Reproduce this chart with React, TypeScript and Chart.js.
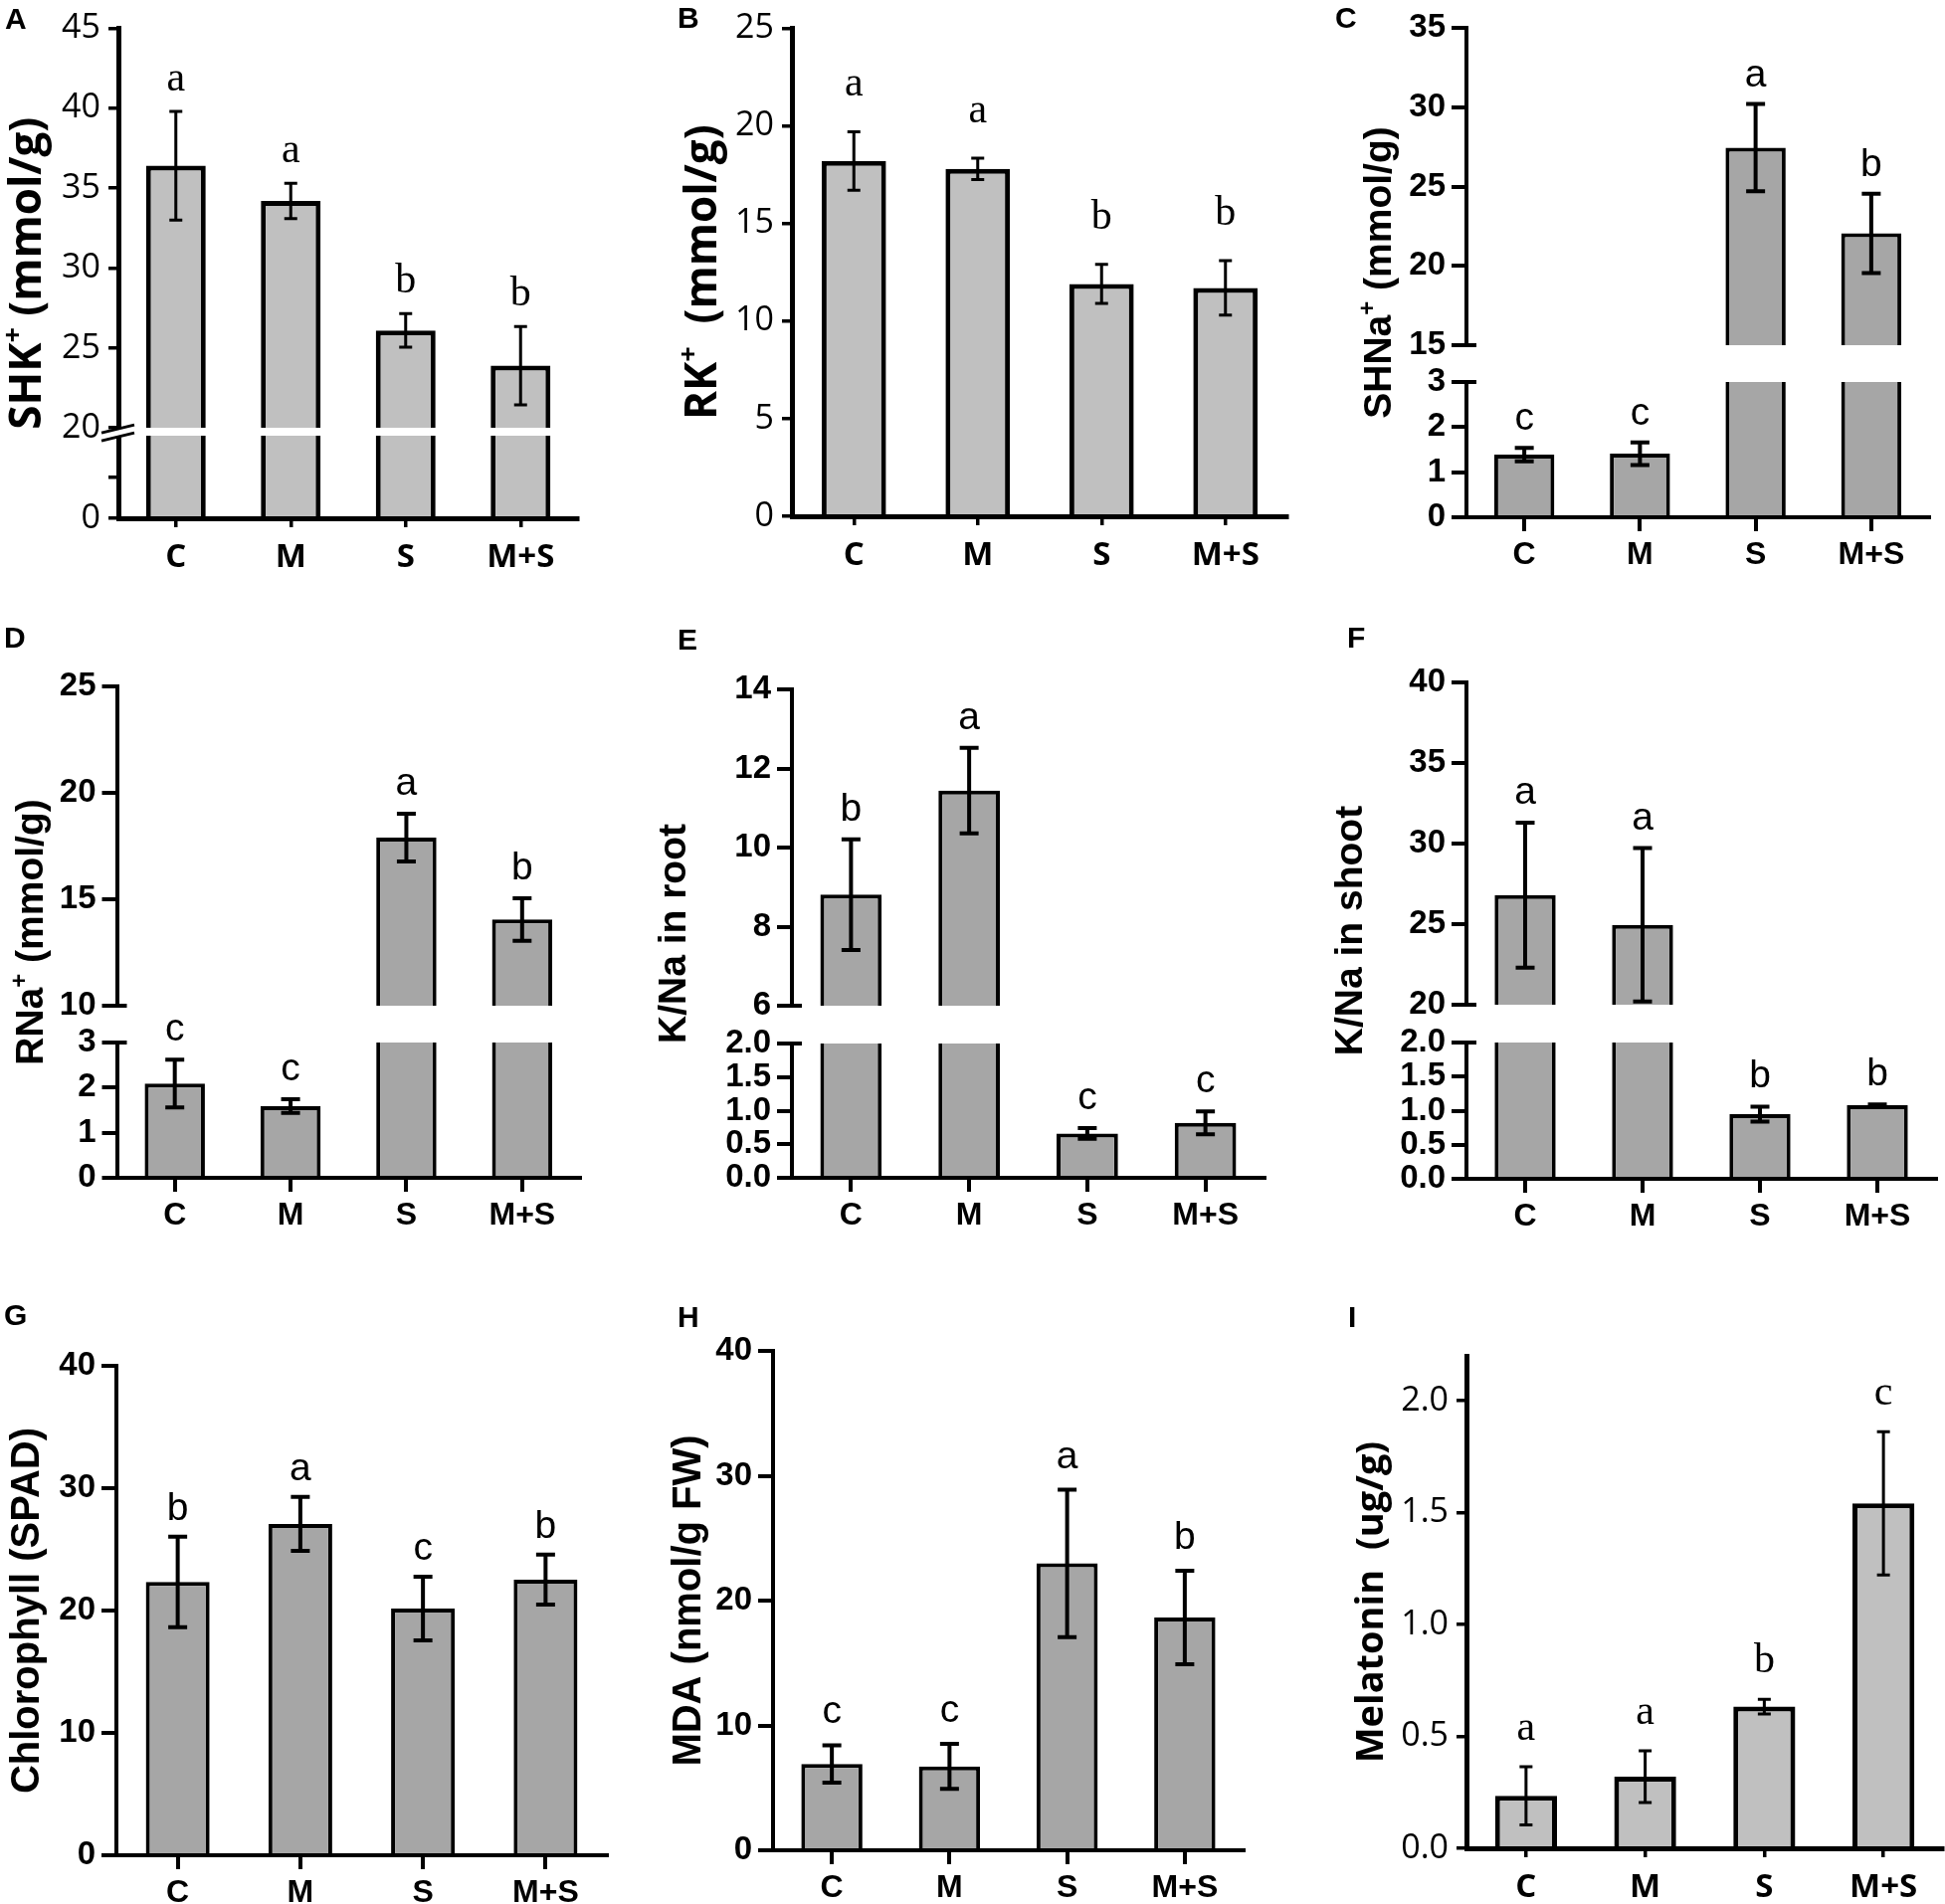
import React, { useEffect, useRef } from 'react';
import { Chart, registerables } from 'chart.js';

Chart.register(...registerables);

const categories = ['C', 'M', 'S', 'M+S'];

// A: SHK+
const shkValues = [36.4, 34.2, 26.1, 23.9];
const shkErrors = [3.4, 1.1, 1.05, 2.45];
const shkLetters = ['a', 'a', 'b', 'b'];
const shkUpperTicks = [20, 25, 30, 35, 40, 45];
const shkLowerTicks = [0, 10, 20];
// B: RK+
const rkValues = [18.2, 17.8, 11.9, 11.7];
const rkErrors = [1.5, 0.55, 1.0, 1.4];
const rkLetters = ['a', 'a', 'b', 'b'];
const rkTicks = [0, 5, 10, 15, 20, 25];
// C: SHNa+
const shnaValues = [1.39, 1.41, 27.45, 22.05];
const shnaErrors = [0.15, 0.25, 2.75, 2.5];
const shnaLetters = ['c', 'c', 'a', 'b'];
const shnaUpperTicks = [15, 20, 25, 30, 35];
const shnaLowerTicks = [0, 1, 2, 3];
// D: RNa+
const rnaValues = [2.09, 1.59, 17.9, 14.05];
const rnaErrors = [0.53, 0.15, 1.12, 1.0];
const rnaLetters = ['c', 'c', 'a', 'b'];
const rnaUpperTicks = [10, 15, 20, 25];
const rnaLowerTicks = [0, 1, 2, 3];
// E: K/Na in root
const rootValues = [8.81, 11.44, 0.66, 0.82];
const rootErrors = [1.4, 1.08, 0.08, 0.17];
const rootLetters = ['b', 'a', 'c', 'c'];
const rootUpperTicks = [6, 8, 10, 12, 14];
const rootLowerTicks = [0, 0.5, 1, 1.5, 2];
// F: K/Na in shoot
const shootValues = [26.8, 24.96, 0.95, 1.08];
const shootErrors = [4.5, 4.76, 0.11, 0.01];
const shootLetters = ['a', 'a', 'b', 'b'];
const shootUpperTicks = [20, 25, 30, 35, 40];
const shootLowerTicks = [0, 0.5, 1, 1.5, 2];
// G: Chlorophyll
const chlValues = [22.34, 27.08, 20.16, 22.53];
const chlErrors = [3.7, 2.2, 2.6, 2.05];
const chlLetters = ['b', 'a', 'c', 'b'];
const chlTicks = [0, 10, 20, 30, 40];
// H: MDA
const mdaValues = [6.91, 6.72, 22.98, 18.65];
const mdaErrors = [1.5, 1.8, 5.9, 3.75];
const mdaLetters = ['c', 'c', 'a', 'b'];
const mdaTicks = [0, 10, 20, 30, 40];
// I: Melatonin
const melValues = [0.235, 0.32, 0.633, 1.541];
const melErrors = [0.13, 0.116, 0.033, 0.32];
const melLetters = ['a', 'a', 'b', 'c'];
const melTicks = [0, 0.5, 1, 1.5, 2];

const ORIGIN_FAMILY = '"Open Sans", "DejaVu Sans", sans-serif';
const PRISM_FAMILY = '"Liberation Sans", Arial, "DejaVu Sans", sans-serif';

const STYLES: any = {
  origin: {
    bar: '#c0c0c0', barBorder: 5, axisW: 5, yTickLen: 10, xTickLen: 9, tickW: 3.5,
    tickPad: 8, catPad: 11, errW: 3, cap: 13,
    tickFont: { family: ORIGIN_FAMILY, size: 34, weight: 'normal' },
    catFont: { family: ORIGIN_FAMILY, size: 33, weight: 'bold' },
    title: ['bold', 44, ORIGIN_FAMILY],
    letterFont: '42px "Liberation Serif", "DejaVu Serif", serif',
  },
  prism: {
    bar: '#a6a6a6', barBorder: 4, axisW: 4, yTickLen: 15, xTickLen: 14, tickW: 4,
    tickPad: 6, catPad: 5, errW: 4, cap: 19,
    tickFont: { family: PRISM_FAMILY, size: 33, weight: 'bold' },
    catFont: { family: PRISM_FAMILY, size: 32, weight: 'bold' },
    title: ['bold', 39, PRISM_FAMILY],
    letterFont: '39px ' + PRISM_FAMILY,
  },
};

type Seg = { min: number; max: number; ticks: number[]; dec: number; hide?: number[] };
type Panel = {
  id: string; style: 'origin' | 'prism';
  box: [number, number, number, number];
  axisX: number; right: number; top: number; bottom: number;
  breakTop?: number; breakBottom?: number;
  values: number[]; errors: number[]; letters: string[];
  upper: Seg; lower?: Seg;
  title: { t: string; sup?: boolean }[];
  titleSize?: number;
  titleX: number; labelX: number; labelY: number; letterGap: number;
};

const panels: Panel[] = [
  {
    id: 'A', style: 'origin', box: [0, 0, 650, 620], axisX: 119, right: 581, top: 22, bottom: 521,
    breakTop: 429, breakBottom: 437,
    values: shkValues, errors: shkErrors, letters: shkLetters,
    upper: { min: 20, max: 45, ticks: shkUpperTicks, dec: 0 },
    lower: { min: 0, max: 20, ticks: shkLowerTicks, dec: 0, hide: [10, 20] },
    title: [{ t: 'SHK' }, { t: '+', sup: true }, { t: ' (mmol/g)' }],
    titleX: 25, labelX: 5, labelY: 21, letterGap: 21,
  },
  {
    id: 'B', style: 'origin', box: [650, 0, 650, 620], axisX: 796, right: 1294, top: 25, bottom: 519,
    values: rkValues, errors: rkErrors, letters: rkLetters,
    upper: { min: 0, max: 25, ticks: rkTicks, dec: 0 },
    title: [{ t: 'RK' }, { t: '+', sup: true }, { t: '  (mmol/g)' }],
    titleX: 704, labelX: 681, labelY: 20, letterGap: 36,
  },
  {
    id: 'C', style: 'prism', box: [1300, 0, 655, 620], axisX: 1474, right: 1939, top: 28, bottom: 520,
    breakTop: 347, breakBottom: 384,
    values: shnaValues, errors: shnaErrors, letters: shnaLetters,
    upper: { min: 15, max: 35, ticks: shnaUpperTicks, dec: 0 },
    lower: { min: 0, max: 3, ticks: shnaLowerTicks, dec: 0 },
    title: [{ t: 'SHNa' }, { t: '+', sup: true }, { t: ' (mmol/g)' }],
    titleX: 1384, labelX: 1342, labelY: 20, letterGap: 18,
  },
  {
    id: 'D', style: 'prism', box: [0, 620, 650, 670], axisX: 117.5, right: 583, top: 690, bottom: 1184,
    breakTop: 1011, breakBottom: 1048,
    values: rnaValues, errors: rnaErrors, letters: rnaLetters,
    upper: { min: 10, max: 25, ticks: rnaUpperTicks, dec: 0 },
    lower: { min: 0, max: 3, ticks: rnaLowerTicks, dec: 0 },
    title: [{ t: 'RNa' }, { t: '+', sup: true }, { t: ' (mmol/g)' }],
    titleX: 29, labelX: 4, labelY: 643, letterGap: 19,
  },
  {
    id: 'E', style: 'prism', box: [650, 620, 650, 670], axisX: 796, right: 1271, top: 693, bottom: 1184,
    breakTop: 1011, breakBottom: 1049,
    values: rootValues, errors: rootErrors, letters: rootLetters,
    upper: { min: 6, max: 14, ticks: rootUpperTicks, dec: 0 },
    lower: { min: 0, max: 2, ticks: rootLowerTicks, dec: 1 },
    title: [{ t: 'K/Na in root' }],
    titleX: 675, labelX: 681, labelY: 645, letterGap: 19,
  },
  {
    id: 'F', style: 'prism', box: [1300, 620, 655, 670], axisX: 1474, right: 1946, top: 686, bottom: 1185,
    breakTop: 1010, breakBottom: 1048,
    values: shootValues, errors: shootErrors, letters: shootLetters,
    upper: { min: 20, max: 40, ticks: shootUpperTicks, dec: 0 },
    lower: { min: 0, max: 2, ticks: shootLowerTicks, dec: 1 },
    title: [{ t: 'K/Na in shoot' }],
    titleX: 1355, labelX: 1354, labelY: 643, letterGap: 19,
  },
  {
    id: 'G', style: 'prism', box: [0, 1290, 650, 624], axisX: 117, right: 610, top: 1373, bottom: 1865,
    values: chlValues, errors: chlErrors, letters: chlLetters,
    upper: { min: 0, max: 40, ticks: chlTicks, dec: 0 },
    title: [{ t: 'Chlorophyll (SPAD)' }],
    titleSize: 40,
    titleX: 25, labelX: 4, labelY: 1324, letterGap: 17,
  },
  {
    id: 'H', style: 'prism', box: [650, 1290, 650, 624], axisX: 777, right: 1250, top: 1358, bottom: 1860,
    values: mdaValues, errors: mdaErrors, letters: mdaLetters,
    upper: { min: 0, max: 40, ticks: mdaTicks, dec: 0 },
    title: [{ t: 'MDA (nmol/g FW)' }],
    titleSize: 40,
    titleX: 690, labelX: 681, labelY: 1326, letterGap: 22,
  },
  {
    id: 'I', style: 'origin', box: [1300, 1290, 655, 624], axisX: 1474, right: 1953, top: 1363, bottom: 1858,
    values: melValues, errors: melErrors, letters: melLetters,
    upper: { min: 0, max: 2.2, ticks: melTicks, dec: 1 },
    title: [{ t: 'Melatonin  (ug/g)' }],
    titleSize: 38,
    titleX: 1376, labelX: 1355, labelY: 1326, letterGap: 27,
  },
];

function makeOverlay(p: Panel) {
  const st = STYLES[p.style];
  return {
    id: 'overlay' + p.id,
    afterDatasetsDraw(chart: any) {
      const ctx = chart.ctx;
      const xs = chart.scales.x;
      ctx.save();
      p.values.forEach((v, i) => {
        const e = p.errors[i];
        const sc = p.lower && v <= p.lower.max ? chart.scales.yLow : chart.scales.y;
        const x = xs.getPixelForValue(i);
        const yT = sc.getPixelForValue(v + e);
        const yB = sc.getPixelForValue(v - e);
        ctx.strokeStyle = '#000';
        ctx.lineWidth = st.errW;
        ctx.lineCap = 'butt';
        ctx.beginPath();
        ctx.moveTo(x, yT);
        ctx.lineTo(x, yB);
        ctx.moveTo(x - st.cap / 2, yT);
        ctx.lineTo(x + st.cap / 2, yT);
        ctx.moveTo(x - st.cap / 2, yB);
        ctx.lineTo(x + st.cap / 2, yB);
        ctx.stroke();
        ctx.fillStyle = '#000';
        ctx.font = st.letterFont;
        ctx.textAlign = 'center';
        ctx.textBaseline = 'alphabetic';
        ctx.fillText(p.letters[i], x, yT - p.letterGap);
      });
      ctx.restore();
    },
    afterDraw(chart: any) {
      const ctx = chart.ctx;
      const ca = chart.chartArea;
      ctx.save();
      if (p.lower) {
        const yU = chart.scales.y;
        const yL = chart.scales.yLow;
        if (p.style === 'origin') {
          const x0 = ca.left;
          const ym = (yU.bottom + yL.top) / 2;
          ctx.fillStyle = '#fff';
          ctx.beginPath();
          ctx.moveTo(x0 - 17, ym + 1);
          ctx.lineTo(x0 + 16, ym - 7);
          ctx.lineTo(x0 + 16, ym + 1);
          ctx.lineTo(x0 - 17, ym + 9);
          ctx.closePath();
          ctx.fill();
          ctx.strokeStyle = '#000';
          ctx.lineWidth = 3;
          ctx.beginPath();
          ctx.moveTo(x0 - 17, ym + 1);
          ctx.lineTo(x0 + 16, ym - 7);
          ctx.moveTo(x0 - 17, ym + 9);
          ctx.lineTo(x0 + 16, ym + 1);
          ctx.stroke();
        } else {
          ctx.strokeStyle = '#000';
          ctx.lineWidth = st.tickW;
          ctx.beginPath();
          ctx.moveTo(ca.left, yU.bottom);
          ctx.lineTo(ca.left + 10, yU.bottom);
          ctx.moveTo(ca.left, yL.top);
          ctx.lineTo(ca.left + 10, yL.top);
          ctx.stroke();
        }
      }
      const [w, baseSize, fam] = st.title;
      const size = p.titleSize || baseSize;
      const fontMain = `${w} ${size}px ${fam}`;
      const fontSup = `${w} ${Math.round(size * 0.62)}px ${fam}`;
      const widths = p.title.map((pt) => {
        ctx.font = pt.sup ? fontSup : fontMain;
        return ctx.measureText(pt.t).width;
      });
      const total = widths.reduce((a, b) => a + b, 0);
      ctx.translate(p.titleX - p.box[0], (ca.top + ca.bottom) / 2);
      ctx.rotate(-Math.PI / 2);
      ctx.fillStyle = '#000';
      ctx.textAlign = 'left';
      ctx.textBaseline = 'alphabetic';
      let x = -total / 2;
      const base = size * 0.36;
      p.title.forEach((pt, i) => {
        ctx.font = pt.sup ? fontSup : fontMain;
        ctx.fillText(pt.t, x, pt.sup ? base - size * 0.42 : base);
        x += widths[i];
      });
      ctx.restore();
      ctx.save();
      ctx.fillStyle = '#000';
      ctx.font = `bold 30px ${PRISM_FAMILY}`;
      ctx.textAlign = 'left';
      ctx.textBaseline = 'middle';
      ctx.fillText(p.id, p.labelX - p.box[0], p.labelY - p.box[1]);
      ctx.restore();
    },
  };
}

function buildConfig(p: Panel): any {
  const st = STYLES[p.style];
  const yW = p.axisX - p.box[0];
  const xH = p.box[1] + p.box[3] - p.bottom;
  const bw = st.barBorder;

  const yScale = (seg: Seg, extra: any) => ({
    type: 'linear',
    position: 'left',
    min: seg.min,
    max: seg.max,
    afterBuildTicks: (s: any) => {
      s.ticks = seg.ticks.map((v) => ({ value: v }));
    },
    afterFit: (s: any) => {
      s.width = yW;
    },
    border: { display: true, color: '#000', width: st.axisW, z: 1 },
    grid: {
      display: true, drawOnChartArea: false, drawTicks: true,
      tickLength: st.yTickLen, color: '#000', lineWidth: st.tickW,
    },
    ticks: {
      display: true, color: '#000', padding: st.tickPad, font: st.tickFont, autoSkip: false,
      callback: (v: any) => (seg.hide && seg.hide.includes(Number(v)) ? '' : Number(v).toFixed(seg.dec)),
    },
    ...extra,
  });

  const scales: any = {
    x: {
      type: 'category',
      offset: true,
      afterFit: (s: any) => {
        s.height = xH;
      },
      border: { display: true, color: '#000', width: st.axisW, z: 1 },
      grid: {
        display: true, offset: false, drawOnChartArea: false, drawTicks: true,
        tickLength: st.xTickLen, color: '#000', lineWidth: st.tickW,
      },
      ticks: { color: '#000', padding: st.catPad, font: st.catFont, maxRotation: 0, autoSkip: false },
    },
  };

  let datasets: any[];
  if (p.lower && p.breakTop && p.breakBottom) {
    const lower = p.lower;
    const upper = p.upper;
    scales.y = yScale(upper, { stack: 'v', stackWeight: p.breakTop - p.top, weight: 3 });
    scales.yGap = {
      type: 'linear', position: 'left', min: 0, max: 1,
      stack: 'v', stackWeight: p.breakBottom - p.breakTop, weight: 2,
      afterFit: (s: any) => {
        s.width = yW;
      },
      ticks: { display: false },
      grid: { display: false, drawTicks: false },
      border: { display: p.style === 'origin', color: '#000', width: st.axisW, z: 1 },
    };
    scales.yLow = yScale(lower, { stack: 'v', stackWeight: p.bottom - p.breakBottom, weight: 1 });
    datasets = [
      {
        data: p.values.map((v) => [lower.min, Math.min(v, lower.max)]),
        yAxisID: 'yLow',
        grouped: false,
        backgroundColor: st.bar,
        borderColor: '#000',
        borderSkipped: false,
        borderWidth: (ctx: any) => ({
          top: p.values[ctx.dataIndex] > lower.max ? 0 : bw, left: bw, right: bw, bottom: 0,
        }),
        barPercentage: 0.52,
        categoryPercentage: 1,
      },
      {
        data: p.values.map((v) => (v > upper.min ? [upper.min, v] : null)),
        yAxisID: 'y',
        grouped: false,
        backgroundColor: st.bar,
        borderColor: '#000',
        borderSkipped: false,
        borderWidth: { top: bw, left: bw, right: bw, bottom: 0 },
        barPercentage: 0.52,
        categoryPercentage: 1,
      },
    ];
  } else {
    scales.y = yScale(p.upper, {});
    datasets = [
      {
        data: p.values,
        yAxisID: 'y',
        backgroundColor: st.bar,
        borderColor: '#000',
        borderSkipped: false,
        borderWidth: { top: bw, left: bw, right: bw, bottom: 0 },
        barPercentage: 0.52,
        categoryPercentage: 1,
      },
    ];
  }

  return {
    type: 'bar',
    data: { labels: categories, datasets },
    options: {
      responsive: false,
      animation: false,
      devicePixelRatio: 1,
      events: [],
      layout: {
        padding: { left: 0, top: p.top - p.box[1], right: p.box[0] + p.box[2] - p.right, bottom: 0 },
      },
      plugins: { legend: { display: false }, tooltip: { enabled: false } },
      scales,
    },
    plugins: [makeOverlay(p)],
  };
}

function PanelChart({ p }: { p: Panel }) {
  const ref = useRef<HTMLCanvasElement>(null);
  useEffect(() => {
    const chart = new Chart(ref.current as HTMLCanvasElement, buildConfig(p));
    return () => chart.destroy();
  }, [p]);
  return (
    <canvas
      ref={ref}
      width={p.box[2]}
      height={p.box[3]}
      style={{ position: 'absolute', left: p.box[0], top: p.box[1], width: p.box[2], height: p.box[3] }}
    />
  );
}

export default function App() {
  return (
    <div style={{ position: 'absolute', left: 0, top: 0, width: 1955, height: 1914, background: '#fff', overflow: 'hidden' }}>
      {panels.map((p) => (
        <PanelChart key={p.id} p={p} />
      ))}
    </div>
  );
}
